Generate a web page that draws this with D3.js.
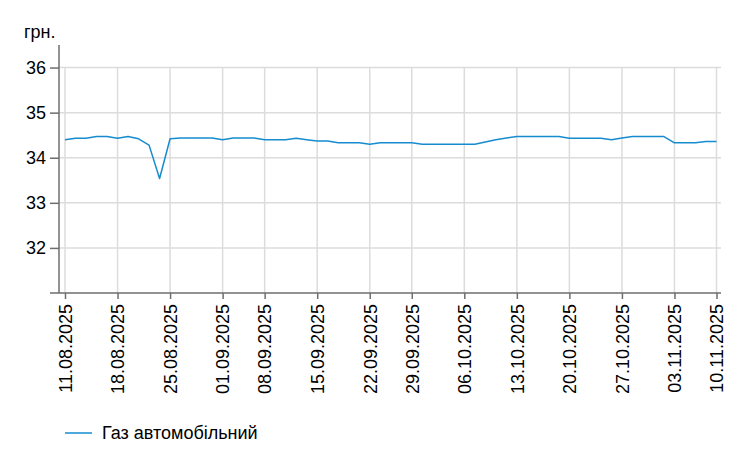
<!DOCTYPE html>
<html>
<head>
<meta charset="utf-8">
<script src="https://cdn.jsdelivr.net/npm/d3@7"></script>
<style>
  html, body { margin: 0; padding: 0; background: #fff; }
  svg { display: block; font-family: Arial, "Liberation Sans", sans-serif; }
</style>
</head>
<body>
<svg id="chart" width="749" height="470"></svg>
<script>
// ---- data ----
const dates = [
  "11.08.2025","12.08.2025","13.08.2025","14.08.2025","15.08.2025",
  "18.08.2025","19.08.2025","20.08.2025","21.08.2025","22.08.2025",
  "25.08.2025","26.08.2025","27.08.2025","28.08.2025","29.08.2025",
  "01.09.2025","02.09.2025","03.09.2025","04.09.2025",
  "08.09.2025","09.09.2025","10.09.2025","11.09.2025","12.09.2025",
  "15.09.2025","16.09.2025","17.09.2025","18.09.2025","19.09.2025",
  "22.09.2025","23.09.2025","24.09.2025","25.09.2025",
  "29.09.2025","30.09.2025","01.10.2025","02.10.2025","03.10.2025",
  "06.10.2025","07.10.2025","08.10.2025","09.10.2025","10.10.2025",
  "13.10.2025","14.10.2025","15.10.2025","16.10.2025","17.10.2025",
  "20.10.2025","21.10.2025","22.10.2025","23.10.2025","24.10.2025",
  "27.10.2025","28.10.2025","29.10.2025","30.10.2025","31.10.2025",
  "03.11.2025","04.11.2025","05.11.2025","06.11.2025",
  "10.11.2025"
];
const gasPrices = [
  34.40, 34.43, 34.43, 34.47, 34.47,
  34.43, 34.47, 34.42, 34.28, 33.54,
  34.42, 34.44, 34.44, 34.44, 34.44,
  34.40, 34.44, 34.44, 34.44,
  34.40, 34.40, 34.40, 34.43, 34.40,
  34.37, 34.37, 34.33, 34.33, 34.33,
  34.30, 34.33, 34.33, 34.33,
  34.33, 34.30, 34.30, 34.30, 34.30,
  34.30, 34.30, 34.35, 34.40, 34.44,
  34.47, 34.47, 34.47, 34.47, 34.47,
  34.43, 34.43, 34.43, 34.43, 34.40,
  34.44, 34.47, 34.47, 34.47, 34.47,
  34.33, 34.33, 34.33, 34.36,
  34.36
];
const xTickLabels = [
  "11.08.2025","18.08.2025","25.08.2025","01.09.2025","08.09.2025",
  "15.09.2025","22.09.2025","29.09.2025","06.10.2025","13.10.2025",
  "20.10.2025","27.10.2025","03.11.2025","10.11.2025"
];
const yTicks = [32, 33, 34, 35, 36];
const seriesName = "Газ автомобільний";
const unitLabel = "грн.";

// ---- layout ----
const svg = d3.select("#chart");
const fontSize = 18;
const lineColor = "#168ccf";
const gridColor = "#dcdcdc";
const axisColor = "#6e6e6e";

const axisX0 = 59, axisX1 = 721, axisYTop = 45, axisYBottom = 293;

const x = d3.scalePoint().domain(dates).range([65, 716.5]);
const y = d3.scaleLinear().domain([31, 36.5]).range([axisYBottom, axisYTop]);

// gridlines horizontal
svg.append("g").selectAll("line").data(yTicks).join("line")
  .attr("x1", axisX0).attr("x2", axisX1)
  .attr("y1", d => y(d)).attr("y2", d => y(d))
  .attr("stroke", gridColor).attr("stroke-width", 1.5);

// gridlines vertical
svg.append("g").selectAll("line").data(xTickLabels).join("line")
  .attr("x1", d => x(d)).attr("x2", d => x(d))
  .attr("y1", y(36)).attr("y2", axisYBottom)
  .attr("stroke", gridColor).attr("stroke-width", 1.5);

// y axis
const yAxis = svg.append("g")
  .attr("transform", `translate(${axisX0},0)`)
  .call(d3.axisLeft(y).tickValues(yTicks).tickSize(9).tickPadding(4).tickFormat(d3.format("d")));
yAxis.select(".domain").attr("d", `M0,${axisYTop}V${axisYBottom}`);
yAxis.selectAll(".domain, .tick line").attr("stroke", axisColor).attr("stroke-width", 1.5);
yAxis.selectAll("text").attr("font-size", fontSize).attr("fill", "#000")
  .attr("font-family", "Arial, 'Liberation Sans', sans-serif");

// x axis
const xAxis = svg.append("g")
  .attr("transform", `translate(0,${axisYBottom})`)
  .call(d3.axisBottom(x).tickValues(xTickLabels).tickSize(6).tickSizeOuter(0));
xAxis.select(".domain").attr("d", `M${axisX0 - 9},0H${axisX1}`);
xAxis.selectAll(".domain, .tick line").attr("stroke", axisColor).attr("stroke-width", 1.5);
xAxis.selectAll("text")
  .attr("font-size", fontSize).attr("fill", "#000")
  .attr("font-family", "Arial, 'Liberation Sans', sans-serif")
  .attr("transform", "rotate(-90)")
  .attr("text-anchor", "end")
  .attr("x", -11).attr("y", 0).attr("dy", "0.35em");

// line
const line = d3.line()
  .x((d, i) => x(dates[i]))
  .y(d => y(d));
svg.append("path")
  .datum(gasPrices)
  .attr("fill", "none")
  .attr("stroke", lineColor)
  .attr("stroke-width", 1.5)
  .attr("stroke-linejoin", "round")
  .attr("d", line);

// unit label
svg.append("text")
  .attr("x", 24).attr("y", 38)
  .attr("font-size", fontSize)
  .text(unitLabel);

// legend
const lg = svg.append("g").attr("transform", "translate(65,433)");
lg.append("line").attr("x1", 0).attr("x2", 27).attr("y1", 0).attr("y2", 0)
  .attr("stroke", lineColor).attr("stroke-width", 1.5);
lg.append("text").attr("x", 37).attr("y", 0).attr("dy", "0.35em")
  .attr("font-size", fontSize).text(seriesName);
</script>
</body>
</html>
